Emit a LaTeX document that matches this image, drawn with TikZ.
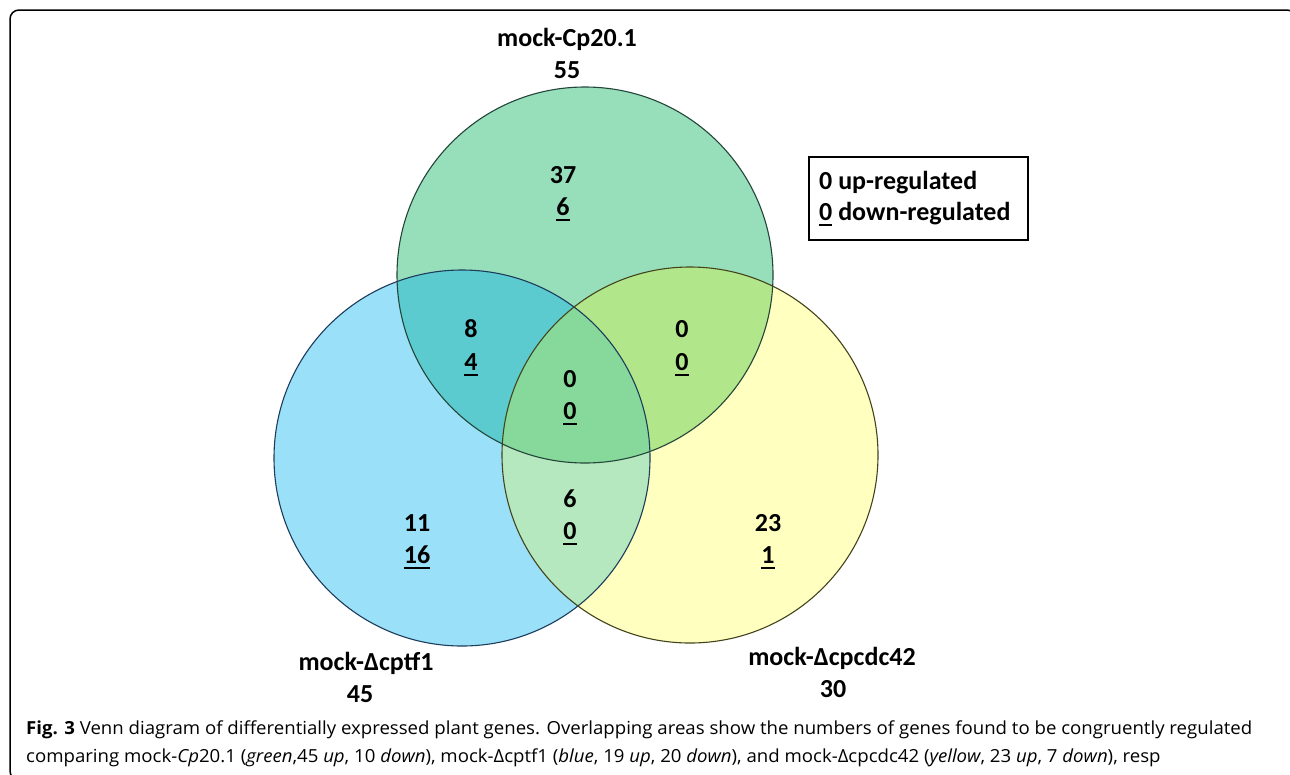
\documentclass[tikz,border=0pt]{standalone}
\usepackage{graphicx}
\usepackage{fontspec}
\setmainfont{Carlito}
\newfontfamily\capfont{Open Sans}
\definecolor{cgreen}{HTML}{96DFBA}
\definecolor{cblue}{HTML}{99E0F8}
\definecolor{cyellow}{HTML}{FFFFC0}
\definecolor{cbg}{HTML}{5BCBCF}
\definecolor{cgy}{HTML}{B2E68A}
\definecolor{cby}{HTML}{B5E8BE}
\definecolor{ccen}{HTML}{86D99A}
\definecolor{sgreen}{HTML}{24463A}
\definecolor{sblue}{HTML}{1E3C5C}
\definecolor{syellow}{HTML}{44441C}
\newsavebox\ulbox
\newcommand\uln[1]{\sbox\ulbox{#1}\rlap{\vrule height -3.5pt depth 6pt width \wd\ulbox}\usebox\ulbox}
\newsavebox\capA
\newsavebox\capB
\tikzset{
  lab/.style={inner sep=0pt, anchor=base, font=\bfseries\fontsize{26}{32}\selectfont},
  legtxt/.style={inner sep=0pt, anchor=base west, font=\bfseries\fontsize{26}{32}\selectfont},
  captxt/.style={inner sep=0pt, anchor=base west},
  ring/.style={line width=1.1pt}
}
\begin{document}
\sbox\capA{\capfont\fontsize{18}{28}\selectfont\textbf{Fig. 3} Venn diagram of differentially expressed plant genes. Overlapping areas show the numbers of genes found to be congruently regulated}%
\sbox\capB{\capfont\fontsize{18}{28}\selectfont comparing mock-\textit{Cp}20.1 (\textit{green},45 \textit{up}, 10 \textit{down}), mock-Δcptf1 (\textit{blue}, 19 \textit{up}, 20 \textit{down}), and mock-Δcpcdc42 (\textit{yellow}, 23 \textit{up}, 7 \textit{down}), resp}%
\pgfmathsetmacro\capsx{1226/\the\wd\capA}%
\begin{tikzpicture}[x=1pt,y=-1pt]
\clip (0,0) rectangle (1290,774);
\fill[white] (0,0) rectangle (1290,774);
% outer frame
\draw[line width=1.5pt, rounded corners=9pt] (10,10) rectangle (1296,780);
% circles
\def\Gc{(585,275) circle (188pt)}
\def\Bc{(462,458) circle (188pt)}
\def\Yc{(690,455) circle (188pt)}
\fill[cgreen] \Gc;
\fill[cblue] \Bc;
\fill[cyellow] \Yc;
\begin{scope}
  \clip \Gc;
  \fill[cbg] \Bc;
  \fill[cgy] \Yc;
\end{scope}
\begin{scope}
  \clip \Bc;
  \fill[cby] \Yc;
\end{scope}
\begin{scope}
  \clip \Gc;
  \clip \Bc;
  \fill[ccen] \Yc;
\end{scope}
\draw[ring, sblue] \Bc;
\draw[ring, syellow] \Yc;
\draw[ring, sgreen] \Gc;
% set labels
\node[lab] (tG) at (567,46) {mock-Cp20.1};
\node[lab] (nG) at (567,78) {55};
\node[lab] (tB) at (366,670) {mock-Δcptf1};
\node[lab] (nB) at (360,702) {45};
\node[lab] (tY) at (832,665) {mock-Δcpcdc42};
\node[lab] (nY) at (833,697) {30};
% region counts
\node[lab] (gu) at (563,183) {37};
\node[lab] (gd) at (563,215) {\uln{6}};
\node[lab] (bgu) at (471,337) {8};
\node[lab] (bgd) at (471,370) {\uln{4}};
\node[lab] (gyu) at (682,337) {0};
\node[lab] (gyd) at (682,370) {\uln{0}};
\node[lab] (cu) at (570,387) {0};
\node[lab] (cd) at (570,419) {\uln{0}};
\node[lab] (byu) at (570,507) {6};
\node[lab] (byd) at (570,539) {\uln{0}};
\node[lab] (bu) at (417,531) {11};
\node[lab] (bd) at (417,563) {\uln{16}};
\node[lab] (yu) at (768,531) {23};
\node[lab] (yd) at (768,563) {\uln{1}};
% legend
\node[draw, line width=1.3pt, minimum width=219pt, minimum height=83pt, inner sep=0pt] (leg) at (918.5,198.5) {};
\node[legtxt] (legu) at (819,189) {0 up-regulated};
\node[legtxt] (legd) at (819,220) {\uln{0}\ down-regulated};
% caption
\node[captxt] (cap1) at (26,734) {\scalebox{\capsx}[1]{\usebox\capA}};
\node[captxt] (cap2) at (26,762) {\scalebox{\capsx}[1]{\usebox\capB}};
\end{tikzpicture}
\end{document}
